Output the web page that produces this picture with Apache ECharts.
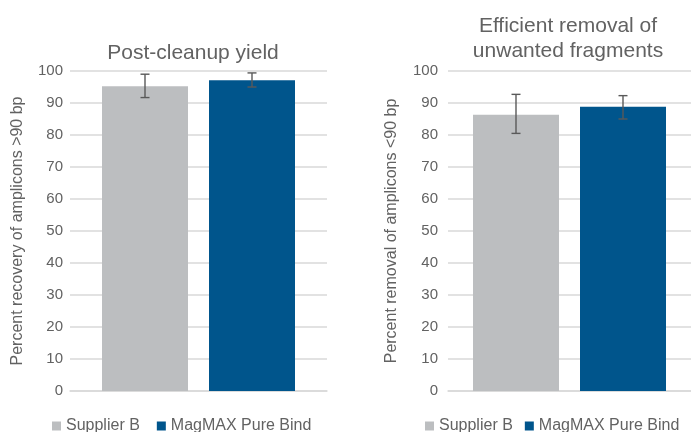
<!DOCTYPE html>
<html><head><meta charset="utf-8">
<script src="https://cdn.jsdelivr.net/npm/echarts@6/dist/echarts.min.js"></script>
<style>html,body{margin:0;padding:0;background:#fff}#c{width:691px;height:432px}</style>
</head><body><div id="c"></div>
<script>
const seriesNames = ['Supplier B', 'MagMAX Pure Bind'];
const chartTitles = ['Post-cleanup yield', 'Efficient removal of\nunwanted fragments'];
const yAxisNames = ['Percent recovery of amplicons >90 bp', 'Percent removal of amplicons <90 bp'];
const category = [''];
// values per chart: [Supplier B, MagMAX]
const yieldValues = [95.2, 97.1];
const yieldLow = [91.7, 95.0];
const yieldHigh = [99.0, 99.4];
const removalValues = [86.3, 88.8];
const removalLow = [80.5, 85.0];
const removalHigh = [92.7, 92.3];

const colors = ['#bcbec0', '#00558c'];
const textColor = '#626262';
const font = 'Liberation Sans';
const BAR_W = 86, GAP = 21;

const chart = echarts.init(document.getElementById('c'));

function barSeries(gi, vals) {
  return seriesNames.map((n, i) => ({
    type: 'bar', name: n, xAxisIndex: gi, yAxisIndex: gi,
    data: [vals[i]], barWidth: BAR_W, barGap: (GAP / BAR_W * 100) + '%',
    itemStyle: { color: colors[i] }, silent: true
  }));
}
function errSeries(gi, lows, highs) {
  return seriesNames.map((n, i) => ({
    type: 'custom', xAxisIndex: gi, yAxisIndex: gi, z: 10, silent: true,
    data: [[0, lows[i], highs[i]]],
    renderItem: function (params, api) {
      const off = (i === 0 ? -1 : 1) * (BAR_W + GAP) / 2;
      const lo = api.coord([api.value(0), api.value(1)]);
      const hi = api.coord([api.value(0), api.value(2)]);
      const x = lo[0] + off, cw = 4.5;
      const st = { stroke: '#595959', lineWidth: 1.4 };
      return { type: 'group', children: [
        { type: 'line', shape: { x1: x, y1: lo[1], x2: x, y2: hi[1] }, style: st },
        { type: 'line', shape: { x1: x - cw, y1: lo[1], x2: x + cw, y2: lo[1] }, style: st },
        { type: 'line', shape: { x1: x - cw, y1: hi[1], x2: x + cw, y2: hi[1] }, style: st }
      ]};
    }
  }));
}
function yAx(gi) {
  return {
    type: 'value', gridIndex: gi, min: 0, max: 100, interval: 10,
    name: yAxisNames[gi], nameLocation: 'middle', nameGap: gi === 0 ? 44 : 48,
    nameTextStyle: { color: textColor, fontSize: 16, fontFamily: font },
    axisLabel: { color: textColor, fontSize: 15, fontFamily: font, margin: gi === 0 ? 7 : 10 },
    axisLine: { show: false }, axisTick: { show: false },
    splitLine: { lineStyle: { color: '#d9d9d9', width: 1.5 } }
  };
}
function xAx(gi) {
  return {
    type: 'category', gridIndex: gi, data: category,
    axisLine: { show: true, lineStyle: { color: '#d9d9d9', width: 1.5 } },
    axisTick: { show: false }, axisLabel: { show: false }
  };
}

chart.setOption({
  animation: false,
  textStyle: { fontFamily: font },
  title: [
    { text: chartTitles[0], left: 188, top: 38, textAlign: 'center',
      textStyle: { color: textColor, fontSize: 21, fontWeight: 'normal', fontFamily: font } },
    { text: chartTitles[1], left: 563, top: 9, textAlign: 'center',
      textStyle: { color: textColor, fontSize: 21, fontWeight: 'normal', fontFamily: font, lineHeight: 25 } }
  ],
  legend: [
    { data: seriesNames, left: 52, top: 418, padding: 0, icon: 'rect', itemWidth: 9, itemHeight: 9, itemGap: 17,
      textStyle: { color: textColor, fontSize: 16, fontFamily: font }, selectedMode: false },
    { data: seriesNames, left: 425, top: 418, padding: 0, icon: 'rect', itemWidth: 9, itemHeight: 9, itemGap: 12,
      textStyle: { color: textColor, fontSize: 16, fontFamily: font }, selectedMode: false }
  ],
  grid: [
    { left: 70, width: 257, top: 71, height: 320 },
    { left: 448, width: 243, top: 71, height: 320 }
  ],
  xAxis: [xAx(0), xAx(1)],
  yAxis: [yAx(0), yAx(1)],
  series: [
    ...barSeries(0, yieldValues), ...errSeries(0, yieldLow, yieldHigh),
    ...barSeries(1, removalValues), ...errSeries(1, removalLow, removalHigh)
  ]
});
</script></body></html>
